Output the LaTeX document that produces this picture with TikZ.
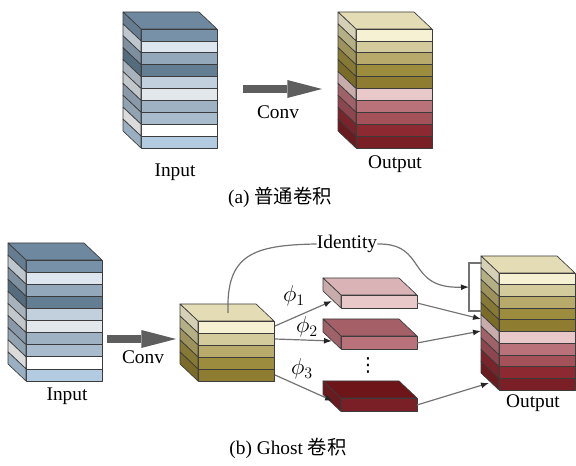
\documentclass[tikz,border=0pt]{standalone}
\usepackage{fontspec}
\setmainfont{Liberation Serif}
\newfontfamily\cjk{Noto Sans CJK SC}
\newfontfamily\symfont{DejaVu Sans}
\usetikzlibrary{arrows.meta}
\usetikzlibrary{calc}

\definecolor{edgegray}{HTML}{3C3C3C}
\definecolor{linegray}{HTML}{737373}
\definecolor{convgray}{HTML}{5E5E5E}
%input layers
\definecolor{inTop}{HTML}{6E889F}
\definecolor{inA}{HTML}{7791A9}
\definecolor{inB}{HTML}{DDE6EF}
\definecolor{inC}{HTML}{93A8BA}
\definecolor{inD}{HTML}{637D93}
\definecolor{inE}{HTML}{C2CFDC}
\definecolor{inF}{HTML}{E2E7EC}
\definecolor{inG}{HTML}{9FB2C4}
\definecolor{inH}{HTML}{A9BCCD}
\definecolor{inI}{HTML}{FFFFFF}
\definecolor{inJ}{HTML}{B3CBE1}
%output layers
\definecolor{outTop}{HTML}{E3DCB4}
\definecolor{outA}{HTML}{F6F1D2}
\definecolor{outB}{HTML}{D3CB9B}
\definecolor{outC}{HTML}{B8AA6B}
\definecolor{outD}{HTML}{9C8C3E}
\definecolor{outE}{HTML}{8E7C30}
\definecolor{outF}{HTML}{E8C8C8}
\definecolor{outG}{HTML}{B9727A}
\definecolor{outH}{HTML}{A4515A}
\definecolor{outI}{HTML}{8D2A31}
\definecolor{outJ}{HTML}{7A1F25}
%ghost plates
\definecolor{phiTopA}{HTML}{D9B3B6}
\definecolor{phiTopB}{HTML}{A55F67}
\definecolor{phiTopC}{HTML}{6E1519}

\tikzset{
  face/.style={draw=edgegray,line width=0.5pt,line join=round},
  lbl/.style={font=\fontsize{14.5}{17}\selectfont,inner sep=1pt},
  philbl/.style={font=\fontsize{18}{20}\selectfont,inner sep=1pt},
  thinline/.style={draw=linegray,line width=0.9pt},
  thinarrow/.style={thinline,-{Latex[length=6pt,width=4.5pt,color=black!85]}},
  convarrow/.style={draw=convgray,line width=6pt,
    -{Triangle[length=26pt,width=13.5pt,line width=0pt]}}
}

%layered cuboid: x, y (front top left), width, layer height, top colour, layer colours
\newcommand{\layercube}[6]{%
  \filldraw[face,fill=#5] (#1,#2) -- ++(#3,0) -- ++(-18,-17) -- ++(-#3,0) -- cycle;
  \foreach \c [count=\k from 0] in {#6}{
    \filldraw[face,fill=\c] (#1,#2+\k*#4) rectangle ++(#3,#4);
    \filldraw[face,fill=\c!86!black] (#1,#2+\k*#4) -- ++(-18,-17) -- ++(0,#4) -- ++(18,17) -- cycle;
  }
}

\begin{document}
\begin{tikzpicture}[x=0.75pt,y=-0.75pt]
\useasboundingbox (0,0) rectangle (576,466);

%(a) plain convolution
\layercube{141}{29}{76}{11.9}{inTop}{inA,inB,inC,inD,inE,inF,inG,inH,inI,inJ}
\layercube{356}{29}{76}{11.9}{outTop}{outA,outB,outC,outD,outE,outF,outG,outH,outI,outJ}
\coordinate (convAfrom) at (243,89);
\coordinate (convAto) at (322,89);
\draw[convarrow] (convAfrom) -- (convAto);
\node[lbl] (convAlbl) at (278,112) {Conv};
\node[lbl] (inAlbl) at (175,172) {Input};
\node[lbl] (outAlbl) at (395,164) {Output};
\node[lbl] (capA) at (280,197) {(a) {\cjk 普通卷积}};

%(b) ghost convolution
\layercube{26}{260}{76}{12.1}{inTop}{inA,inB,inC,inD,inE,inF,inG,inH,inI,inJ}
\layercube{198}{321}{76}{12}{outTop}{outA,outB,outC,outD,outE}
\layercube{341}{295}{76}{13}{phiTopA}{outF}
\layercube{341}{336}{76}{13}{phiTopB}{outG}
\layercube{341}{398}{76}{13.5}{phiTopC}{outJ}
\layercube{499}{273}{76}{11.7}{outTop}{outA,outB,outC,outD,outE,outF,outG,outH,outI,outJ}

\coordinate (convBfrom) at (107,339);
\coordinate (convBto) at (176,339);
\draw[convarrow] (convBfrom) -- (convBto);
\node[lbl] (convBlbl) at (143,357) {Conv};
\node[lbl] (inBlbl) at (67,396) {Input};
\node[lbl] (outBlbl) at (533,403) {Output};
\node[lbl] (capB) at (288,448) {(b) Ghost {\cjk 卷积}};

%identity branch
\node[lbl,fill=white,inner sep=0pt] (id) at (347,244) {Identity};
\coordinate (idfrom) at (228,313);
\coordinate (brk) at (469,287);
\draw[thinline] (idfrom) .. controls (226,255) and (252,245) .. (id.west);
\draw[thinarrow] (id.east) .. controls (428,243) and (405,289) .. (brk);
\draw[thinline] (482,263) -- (469,263) -- (469,311) -- (482,311);

%cheap operations
\coordinate (g1) at (275,326);
\coordinate (g2) at (275,339);
\coordinate (g3) at (275,375);
\coordinate (p1in) at (332,301);
\coordinate (p2in) at (332,341);
\coordinate (p3in) at (333,401);
\coordinate (p1out) at (417,303);
\coordinate (p2out) at (417,343);
\coordinate (p3out) at (417,405);
\coordinate (o1) at (481,319);
\coordinate (o2) at (481,331);
\coordinate (o3) at (489,383);
\draw[thinarrow] (g1) -- (p1in);
\draw[thinarrow] (g2) -- (p2in);
\draw[thinarrow] (g3) -- (p3in);
\draw[thinarrow] (p1out) -- (o1);
\draw[thinarrow] (p2out) -- (o2);
\draw[thinarrow] (p3out) -- (o3);
\node[philbl] (phi1) at (294,296) {$\phi_1$};
\node[philbl] (phi2) at (307,327) {$\phi_2$};
\node[philbl] (phi3) at (302,369) {$\phi_3$};
\node[lbl] (dots) at (368,365) {\symfont ⋮};
\end{tikzpicture}
\end{document}
